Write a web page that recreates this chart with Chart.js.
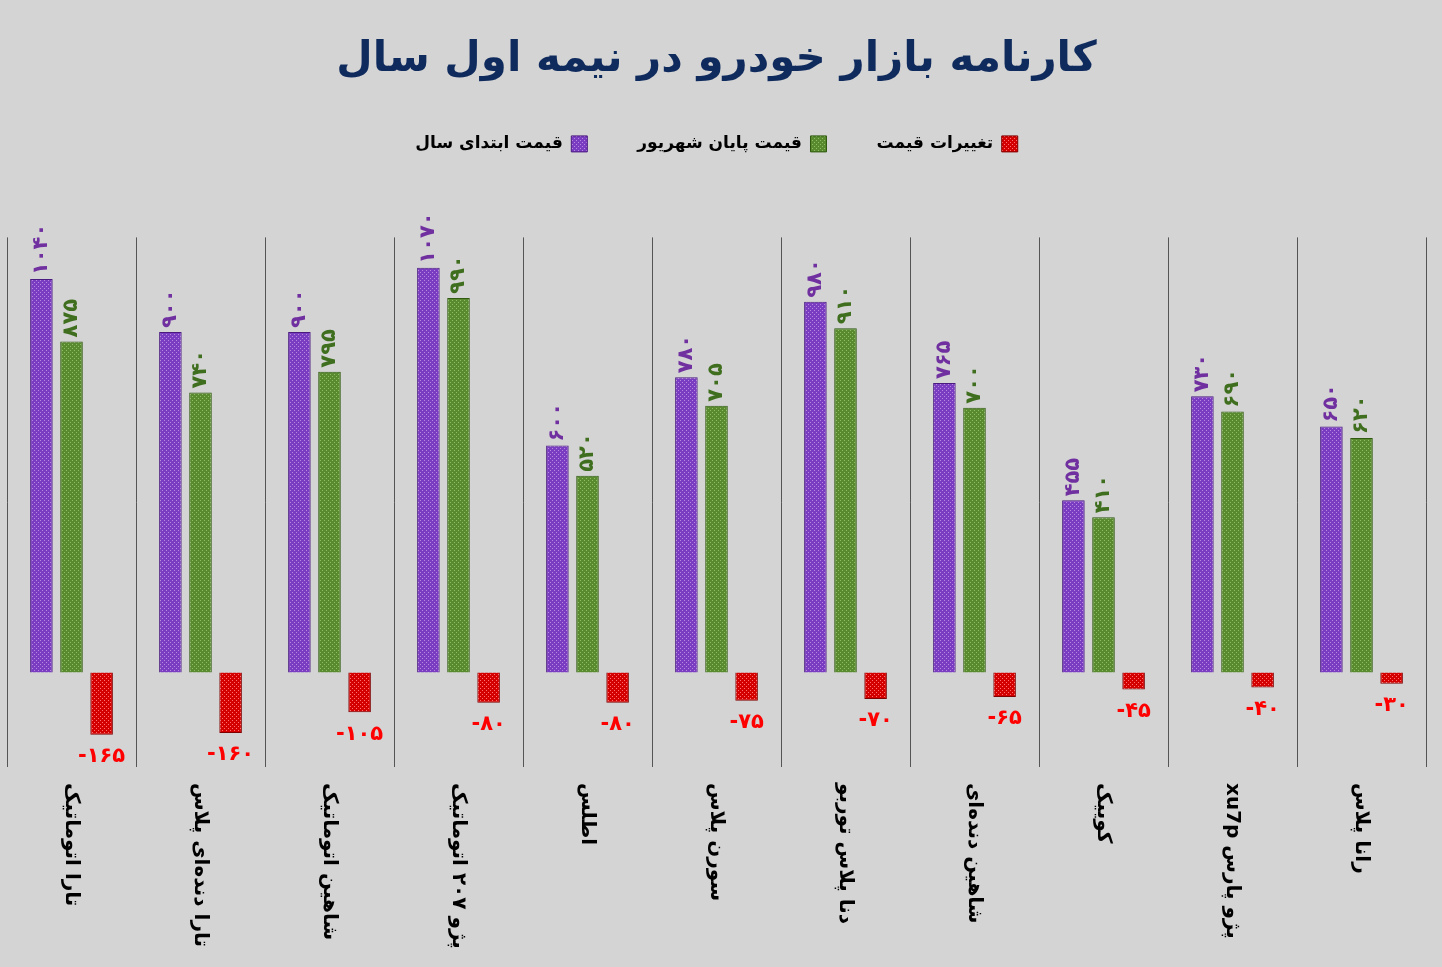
<!DOCTYPE html>
<html>
<head>
<meta charset="utf-8">
<script src="https://cdn.jsdelivr.net/npm/chart.js@4.4.0/dist/chart.umd.min.js"></script>
<style>
  html, body { margin: 0; padding: 0; background: #d4d4d4; }
  #wrap { width: 1442px; height: 967px; }
</style>
</head>
<body>
<div id="wrap"><canvas id="c"></canvas></div>
<script>
const cars = ['تارا اتوماتیک', 'تارا دنده‌ای پلاس', 'شاهین اتوماتیک', 'پژو ۲۰۷ اتوماتیک', 'اطلس', 'سورن پلاس',
  'دنا پلاس توربو', 'شاهین دنده‌ای', 'کوییک', 'پژو پارس xu7p', 'رانا پلاس'];
const startPrice = [1040, 900, 900, 1070, 600, 780, 980, 765, 455, 730, 650];
const endPrice = [875, 740, 795, 990, 520, 705, 910, 700, 410, 690, 620];
const change = [-165, -160, -105, -80, -80, -75, -70, -65, -45, -40, -30];

const FONT = '"DejaVu Sans", sans-serif';

function fa(n) {
  const d = '۰۱۲۳۴۵۶۷۸۹';
  return String(n).replace(/[0-9]/g, c => d[c]);
}

// dotted fill like the reference bars
function dots(base, dot) {
  const p = document.createElement('canvas');
  p.width = 4; p.height = 4;
  const g = p.getContext('2d');
  g.fillStyle = base; g.fillRect(0, 0, 4, 4);
  g.fillStyle = dot; g.fillRect(0, 0, 1, 1); g.fillRect(2, 2, 1, 1);
  return g.createPattern(p, 'repeat');
}

const colors = ['#7a3cc0', '#5a8a30', '#d40000'];

const legendGap = {
  id: 'legendGap',
  beforeInit(chart) {
    const fit = chart.legend.fit;
    chart.legend.fit = function () {
      fit.call(this);
      this.height += 75;
    };
  }
};

const labelPlugin = {
  id: 'labels',
  afterDatasetsDraw(chart) {
    const ctx = chart.ctx;
    ctx.save();
    ctx.font = 'bold 21px ' + FONT;
    [0, 1].forEach(di => {
      chart.getDatasetMeta(di).data.forEach((bar, i) => {
        ctx.save();
        ctx.translate(bar.x, bar.y - 4);
        ctx.rotate(-Math.PI / 2);
        ctx.fillStyle = di === 0 ? '#7030a0' : '#3f6f1e';
        ctx.textAlign = 'left';
        ctx.textBaseline = 'middle';
        ctx.fillText(fa(chart.data.datasets[di].data[i]), 0, 0);
        ctx.restore();
      });
    });
    chart.getDatasetMeta(2).data.forEach((bar, i) => {
      ctx.fillStyle = '#ff0000';
      ctx.textAlign = 'center';
      ctx.textBaseline = 'middle';
      ctx.fillText('-' + fa(-change[i]), bar.x, bar.y + 22);
    });
    // category names, vertical, reading top to bottom
    const x = chart.scales.x;
    ctx.font = 'bold 20px ' + FONT;
    ctx.fillStyle = '#000';
    cars.forEach((c, i) => {
      ctx.save();
      ctx.translate(x.getPixelForValue(i), chart.chartArea.bottom + 16);
      ctx.rotate(Math.PI / 2);
      ctx.direction = 'rtl';
      ctx.textAlign = 'left';
      ctx.textBaseline = 'middle';
      ctx.fillText(c, 0, 0);
      ctx.restore();
    });
    ctx.restore();
  }
};

new Chart(document.getElementById('c'), {
  type: 'bar',
  data: {
    labels: cars,
    datasets: [
      { label: 'قیمت ابتدای سال', data: startPrice, backgroundColor: dots(colors[0], '#b58ae0'), borderColor: '#4a1a80', borderWidth: 1 },
      { label: 'قیمت پایان شهریور', data: endPrice, backgroundColor: dots(colors[1], '#8fc060'), borderColor: '#2f5a10', borderWidth: 1 },
      { label: 'تغییرات قیمت', data: change, backgroundColor: dots(colors[2], '#ff7070'), borderColor: '#800000', borderWidth: 1 }
    ]
  },
  options: {
    responsive: true,
    maintainAspectRatio: false,
    animation: false,
    categoryPercentage: 0.7,
    barPercentage: 0.75,
    layout: { padding: { left: 7, right: 16, top: 20, bottom: 200 } },
    scales: {
      x: {
        offset: true,
        ticks: { display: false },
        grid: { display: true, offset: true, color: '#555', drawTicks: false },
        border: { display: false }
      },
      y: {
        display: false,
        min: -250,
        max: 1150
      }
    },
    plugins: {
      title: {
        display: true,
        text: 'کارنامه بازار خودرو در نیمه اول سال',
        color: '#0f2a5c',
        font: { family: FONT, size: 42, weight: 'bold' },
        padding: { top: 15, bottom: 0 }
      },
      legend: {
        rtl: true,
        reverse: true,
        labels: {
          color: '#000',
          font: { family: FONT, size: 17, weight: 'bold' },
          boxWidth: 16, boxHeight: 16,
          padding: 50
        }
      },
      tooltip: { enabled: false }
    }
  },
  plugins: [legendGap, labelPlugin]
});
</script>
</body>
</html>
